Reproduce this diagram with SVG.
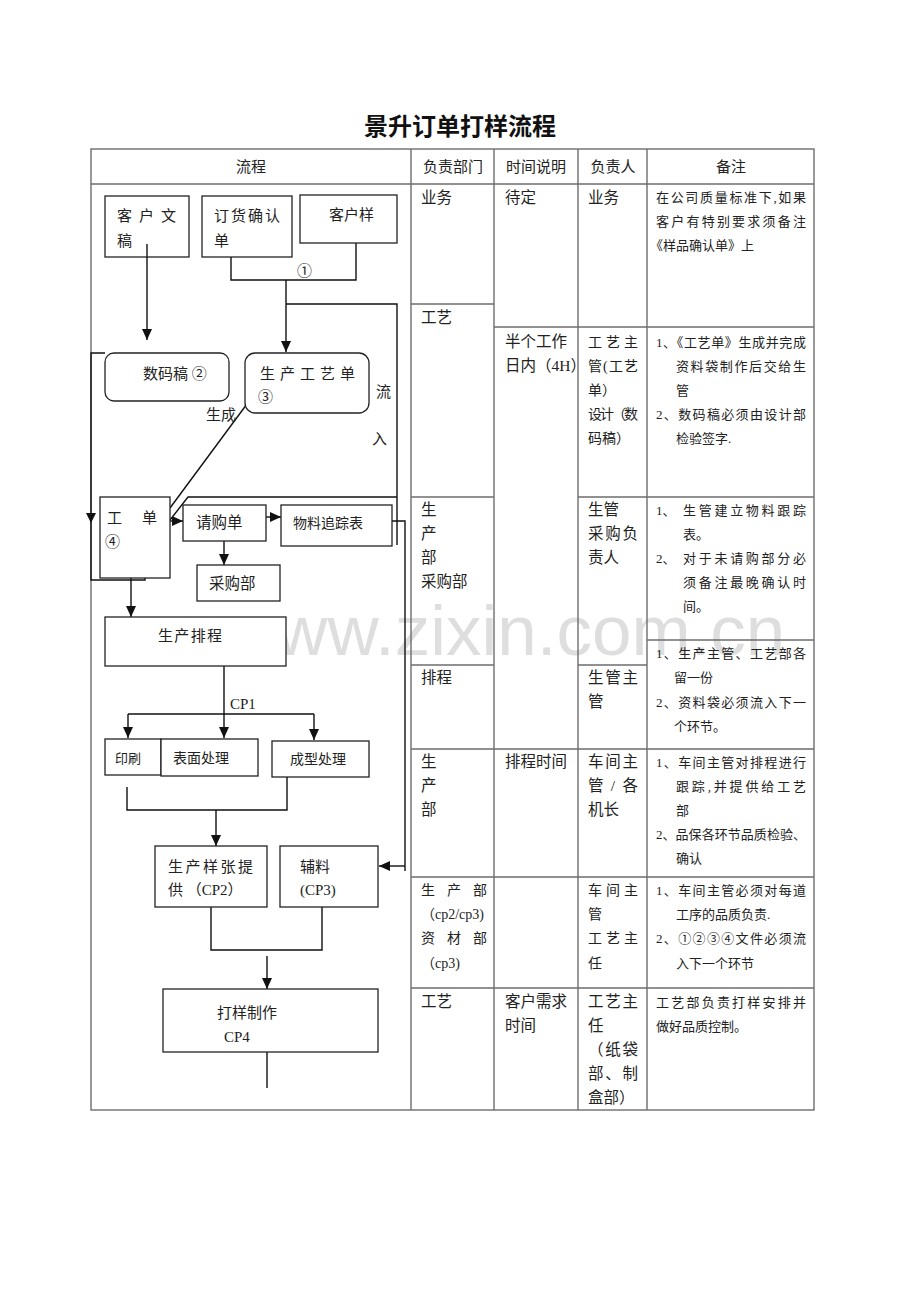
<svg xmlns="http://www.w3.org/2000/svg" width="920" height="1302" viewBox="0 0 920 1302">
<defs>
<style>
text{font-family:"Liberation Serif","Noto Sans CJK SC",serif;fill:#222;font-size:15px}
.t{font-family:"Noto Sans CJK SC",sans-serif;font-weight:bold;font-size:24px;fill:#111}
.s13{font-size:13px}
.s14{font-size:14px}
.s155{font-size:15.5px}
.grid{stroke:#6e6e6e;stroke-width:1.4;fill:none}
.box{fill:#fff;stroke:#222;stroke-width:1.3}
.ln{fill:none;stroke:#111;stroke-width:1.4}
.wm{font-family:"Liberation Sans",sans-serif;font-size:71px;fill:#dedede}
</style>
<marker id="ah" markerUnits="userSpaceOnUse" markerWidth="12" markerHeight="10" refX="11" refY="5" orient="auto">
<path d="M0,0 L11,5 L0,10 Z" fill="#111"/>
</marker>
</defs>
<rect x="0" y="0" width="920" height="1302" fill="#fff"/>
<text class="wm" x="225" y="655">www.zixin.com.cn</text>
<text class="t" x="460" y="135" text-anchor="middle">景升订单打样流程</text>

<g id="table">
<rect class="grid" x="91" y="149" width="723" height="961"/>
<path class="grid" d="M91,184 H814 M411,149 V1110 M494,149 V1110 M578,149 V1110 M647,149 V1110 M411,304 H494 M411,497 H494 M578,497 H814 M411,665 H494 M578,665 H647 M494,327 H814 M647,640 H814 M411,749 H814 M411,877 H814 M411,988 H814"/>
<text x="251" y="172" text-anchor="middle">流程</text>
<text x="453" y="172" text-anchor="middle">负责部门</text>
<text x="536" y="172" text-anchor="middle">时间说明</text>
<text x="613" y="172" text-anchor="middle">负责人</text>
<text x="731" y="172" text-anchor="middle">备注</text>
</g>

<g id="col-dept" class="s155">
<text class="s155" x="421" y="203">业务</text>
<text class="s155" x="421" y="323">工艺</text>
<text class="s155" x="421" y="515">生</text>
<text class="s155" x="421" y="539">产</text>
<text class="s155" x="421" y="563">部</text>
<text class="s155" x="421" y="587">采购部</text>
<text class="s155" x="421" y="683">排程</text>
<text class="s155" x="421" y="767">生</text>
<text class="s155" x="421" y="791">产</text>
<text class="s155" x="421" y="815">部</text>
<text class="s14" x="421" y="895" textLength="66" lengthAdjust="spacing">生 产 部</text>
<text class="s14" x="421" y="919">（cp2/cp3)</text>
<text class="s14" x="421" y="943" textLength="66" lengthAdjust="spacing">资 材 部</text>
<text class="s14" x="421" y="968">（cp3)</text>
<text class="s155" x="421" y="1007">工艺</text>
</g>

<g id="col-time">
<text class="s155" x="505" y="203">待定</text>
<text class="s155" x="505" y="347">半个工作</text>
<text class="s155" x="505" y="371">日内（4H）</text>
<text class="s155" x="505" y="767">排程时间</text>
<text class="s155" x="505" y="1007">客户需求</text>
<text class="s155" x="505" y="1031">时间</text>
</g>

<g id="col-person">
<text class="s155" x="588" y="203">业务</text>
<text class="s14" x="588" y="347" textLength="50" lengthAdjust="spacing">工 艺 主</text>
<text class="s14" x="588" y="371" textLength="50" lengthAdjust="spacing">管(工艺</text>
<text class="s14" x="588" y="395">单）</text>
<text class="s14" x="588" y="419" textLength="50" lengthAdjust="spacing">设计（数</text>
<text class="s14" x="588" y="443">码稿）</text>
<text class="s155" x="588" y="515">生管</text>
<text class="s155" x="588" y="539" textLength="50" lengthAdjust="spacing">采购负</text>
<text class="s155" x="588" y="563">责人</text>
<text class="s155" x="588" y="683" textLength="50" lengthAdjust="spacing">生管主</text>
<text class="s155" x="588" y="707">管</text>
<text class="s155" x="588" y="767" textLength="50" lengthAdjust="spacing">车间主</text>
<text class="s155" x="588" y="791" textLength="50" lengthAdjust="spacing">管 / 各</text>
<text class="s155" x="588" y="815">机长</text>
<text class="s14" x="588" y="895" textLength="50" lengthAdjust="spacing">车 间 主</text>
<text class="s14" x="588" y="919">管</text>
<text class="s14" x="588" y="943" textLength="50" lengthAdjust="spacing">工 艺 主</text>
<text class="s14" x="588" y="968">任</text>
<text class="s155" x="588" y="1007" textLength="50" lengthAdjust="spacing">工艺主</text>
<text class="s155" x="588" y="1031">任</text>
<text class="s155" x="588" y="1055" textLength="50" lengthAdjust="spacing">（纸袋</text>
<text class="s155" x="588" y="1079" textLength="50" lengthAdjust="spacing">部、制</text>
<text class="s155" x="588" y="1103">盒部）</text>
</g>

<g id="col-note">
<text class="s13" x="656" y="202" textLength="150" lengthAdjust="spacing">在公司质量标准下,如果</text>
<text class="s13" x="656" y="226" textLength="150" lengthAdjust="spacing">客户有特别要求须备注</text>
<text class="s13" x="650" y="250">《样品确认单》上</text>
<text class="s13" x="656" y="347" textLength="150" lengthAdjust="spacing">1、《工艺单》生成并完成</text>
<text class="s13" x="676" y="371" textLength="130" lengthAdjust="spacing">资料袋制作后交给生</text>
<text class="s13" x="676" y="395">管</text>
<text class="s13" x="656" y="419" textLength="150" lengthAdjust="spacing">2、数码稿必须由设计部</text>
<text class="s13" x="676" y="443">检验签字.</text>
<text class="s13" x="656" y="515">1、</text>
<text class="s13" x="683" y="515" textLength="123" lengthAdjust="spacing">生管建立物料跟踪</text>
<text class="s13" x="683" y="539">表。</text>
<text class="s13" x="656" y="563">2、</text>
<text class="s13" x="683" y="563" textLength="123" lengthAdjust="spacing">对于未请购部分必</text>
<text class="s13" x="683" y="587" textLength="123" lengthAdjust="spacing">须备注最晚确认时</text>
<text class="s13" x="683" y="611">间。</text>
<text class="s13" x="656" y="658" textLength="150" lengthAdjust="spacing">1、生产主管、工艺部各</text>
<text class="s13" x="674" y="682">留一份</text>
<text class="s13" x="656" y="707" textLength="150" lengthAdjust="spacing">2、资料袋必须流入下一</text>
<text class="s13" x="674" y="731">个环节。</text>
<text class="s13" x="656" y="767" textLength="150" lengthAdjust="spacing">1、车间主管对排程进行</text>
<text class="s13" x="676" y="791" textLength="130" lengthAdjust="spacing">跟踪,并提供给工艺</text>
<text class="s13" x="676" y="815">部</text>
<text class="s13" x="656" y="839" textLength="150" lengthAdjust="spacing">2、品保各环节品质检验、</text>
<text class="s13" x="676" y="863">确认</text>
<text class="s13" x="656" y="895" textLength="150" lengthAdjust="spacing">1、车间主管必须对每道</text>
<text class="s13" x="676" y="919">工序的品质负责.</text>
<text class="s13" x="656" y="943" textLength="150" lengthAdjust="spacing">2、①②③④文件必须流</text>
<text class="s13" x="676" y="968">入下一个环节</text>
<text class="s13" x="656" y="1007" textLength="150" lengthAdjust="spacing">工艺部负责打样安排并</text>
<text class="s13" x="656" y="1031">做好品质控制。</text>
</g>

<g id="connectors">
<path class="ln" d="M147,244 V340" marker-end="url(#ah)"/>
<path class="ln" d="M231,245 V280 H356 V243"/>
<path class="ln" d="M286,280 V352" marker-end="url(#ah)"/>
<path class="ln" d="M286,304 H397 V545"/>
<path class="ln" d="M397,497 H188 L170,520"/>
<path class="ln" d="M258,389 L170,508"/>
<path class="ln" d="M105,353 H91 V580 H145 V577"/>
<path d="M86,513 L96,513 L91,523 Z" fill="#111"/>
<path class="ln" d="M170,521 H183" marker-end="url(#ah)"/>
<path class="ln" d="M266,517 H281" marker-end="url(#ah)"/>
<path class="ln" d="M224,541 V565" marker-end="url(#ah)"/>
<path class="ln" d="M392,521 H405 V871"/>
<path class="ln" d="M405,866 H379" marker-end="url(#ah)"/>
<path class="ln" d="M131,578 V617" marker-end="url(#ah)"/>
<path class="ln" d="M224,666 V738" marker-end="url(#ah)"/>
<path class="ln" d="M128,714 H314"/>
<path class="ln" d="M128,714 V738" marker-end="url(#ah)"/>
<path class="ln" d="M314,714 V740" marker-end="url(#ah)"/>
<path class="ln" d="M127,787 V810 H287 V777"/>
<path class="ln" d="M216,810 V846" marker-end="url(#ah)"/>
<path class="ln" d="M211,907 V950 H322 V907"/>
<path class="ln" d="M267,956 V989" marker-end="url(#ah)"/>
<path class="ln" d="M267,1052 V1088"/>
</g>
<text x="297" y="276">①</text>
<text x="206" y="420">生成</text>
<text x="376" y="397">流</text>
<text x="372" y="444">入</text>
<text x="230" y="709">CP1</text>

<g id="n-kehuwengao">
<rect class="box" x="105" y="196" width="84" height="61" fill-opacity="0"/>
<text x="117" y="221" textLength="59" lengthAdjust="spacing">客 户 文</text>
<text x="117" y="246">稿</text>
</g>
<g id="n-dinghuo">
<rect class="box" x="202" y="196" width="90" height="61"/>
<text x="214" y="221" textLength="66" lengthAdjust="spacing">订货确认</text>
<text x="214" y="246">单</text>
</g>
<g id="n-kehuyang">
<rect class="box" x="300" y="195" width="97" height="48"/>
<text x="329" y="220">客户样</text>
</g>
<g id="n-shumagao">
<rect class="box" x="105" y="353" width="124" height="48" rx="9"/>
<text x="143" y="379">数码稿 ②</text>
</g>
<g id="n-gongyidan">
<rect class="box" x="245" y="353" width="124" height="60" rx="10"/>
<text x="260" y="379" textLength="95" lengthAdjust="spacing">生 产 工 艺 单</text>
<text x="258" y="402">③</text>
</g>
<g id="n-gongdan">
<rect class="box" x="100" y="497" width="70" height="81"/>
<text x="107" y="523">工</text>
<text x="142" y="523">单</text>
<text x="105" y="547">④</text>
</g>
<g id="n-qinggou">
<rect class="box" x="183" y="505" width="83" height="36"/>
<text class="s155" x="196" y="528">请购单</text>
</g>
<g id="n-wuliao">
<rect class="box" x="281" y="505" width="111" height="41"/>
<text class="s14" x="293" y="528">物料追踪表</text>
</g>
<g id="n-caigou">
<rect class="box" x="197" y="565" width="83" height="36"/>
<text class="s155" x="209" y="589">采购部</text>
</g>
<g id="n-paicheng">
<rect class="box" x="105" y="617" width="181" height="49"/>
<text x="158" y="641" textLength="64" lengthAdjust="spacing">生产排程</text>
</g>
<g id="n-yinshua">
<rect class="box" x="105" y="739" width="56" height="36"/>
<text class="s13" x="115" y="763">印刷</text>
</g>
<g id="n-biaomian">
<rect class="box" x="161" y="739" width="97" height="37"/>
<text class="s14" x="173" y="763">表面处理</text>
</g>
<g id="n-chengxing">
<rect class="box" x="272" y="741" width="97" height="36"/>
<text class="s14" x="290" y="764">成型处理</text>
</g>
<g id="n-yangzhang">
<rect class="box" x="155" y="846" width="112" height="61"/>
<text x="168" y="872" textLength="85" lengthAdjust="spacing">生产样张提</text>
<text x="168" y="895">供 （CP2）</text>
</g>
<g id="n-fuliao">
<rect class="box" x="280" y="846" width="98" height="61"/>
<text x="300" y="872">辅料</text>
<text x="300" y="895">(CP3)</text>
</g>
<g id="n-dayang">
<rect class="box" x="163" y="989" width="215" height="63"/>
<text x="217" y="1018">打样制作</text>
<text x="224" y="1042">CP4</text>
</g>
</svg>
